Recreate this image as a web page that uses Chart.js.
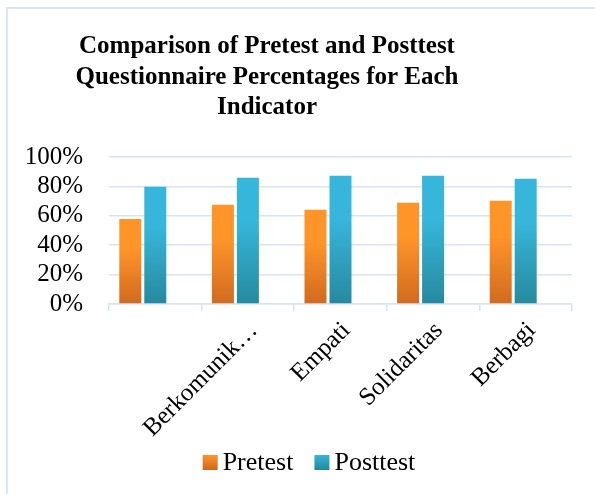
<!DOCTYPE html>
<html>
<head>
<meta charset="utf-8">
<script src="https://cdn.jsdelivr.net/npm/chart.js@4"></script>
<style>
  html, body { margin: 0; padding: 0; background: #fff; overflow: hidden; }
  #wrap { position: relative; width: 595px; height: 494px; }
  #frame { position: absolute; left: 6px; top: 7px; width: 700px; height: 600px; border: 2px solid #dce6f2; }
  canvas { position: absolute; left: 0; top: 0; }
</style>
</head>
<body>
<div id="wrap">
  <div id="frame"></div>
  <canvas id="grafico" width="595" height="494"></canvas>
</div>
<script>
const categorias = ["", "Berkomunik…", "Empati", "Solidaritas", "Berbagi"];
const pretest = [0.579, 0.675, 0.641, 0.689, 0.702];
const posttest = [0.798, 0.859, 0.873, 0.873, 0.852];
const titulo = ["Comparison of Pretest and Posttest", "Questionnaire Percentages for Each", "Indicator"];
const legendas = ["Pretest", "Posttest"];

const coresPre = ["#ff9429", "#d06a1f"];
const coresPos = ["#36b6da", "#26899e"];
const corGrade = "#d9e4f2";
const fonte = "'Liberation Serif', 'Times New Roman', serif";

function gradienteBarra(ctx, cores) {
  const chart = ctx.chart;
  if (!chart.chartArea || ctx.type !== "data") return cores[0];
  const y = chart.scales.y;
  const g = chart.ctx.createLinearGradient(0, y.getPixelForValue(ctx.raw), 0, y.getPixelForValue(0));
  g.addColorStop(0, cores[0]);
  g.addColorStop(0.35, cores[0]);
  g.addColorStop(1, cores[1]);
  return g;
}

// título e legenda desenhados à mão (posições do Excel)
const textoExtra = {
  id: "textoExtra",
  afterDraw(chart) {
    const c = chart.ctx;
    c.save();
    c.fillStyle = "#000";
    c.font = "bold 25px " + fonte;
    c.textAlign = "center";
    c.textBaseline = "middle";
    titulo.forEach((linha, i) => c.fillText(linha, 267, 47 + i * 30.5));

    c.font = "26px " + fonte;
    c.textAlign = "left";
    const larguras = legendas.map(t => c.measureText(t).width);
    const total = 15 + 5 + larguras[0] + 21 + 15 + 5 + larguras[1];
    let x = 309 - total / 2;
    const yMeio = 462;
    [coresPre, coresPos].forEach((cores, i) => {
      const g = c.createLinearGradient(0, yMeio - 7, 0, yMeio + 7);
      g.addColorStop(0, cores[0]);
      g.addColorStop(1, cores[1]);
      c.fillStyle = g;
      c.fillRect(x, yMeio - 7, 15, 15);
      x += 20;
      c.fillStyle = "#000";
      c.fillText(legendas[i], x, yMeio + 1);
      x += larguras[i] + 21;
    });
    c.restore();
  }
};

function desenhar() {
  new Chart(document.getElementById("grafico"), {
    type: "bar",
    data: {
      labels: categorias,
      datasets: [
        { label: legendas[0], data: pretest, backgroundColor: ctx => gradienteBarra(ctx, coresPre) },
        { label: legendas[1], data: posttest, backgroundColor: ctx => gradienteBarra(ctx, coresPos) },
        // vazio, só para empurrar as barras para a esquerda como no original
        { label: "", data: [] }
      ],
    },
    options: {
      responsive: false,
      animation: false,
      layout: { padding: { top: 157, right: 23, left: 0, bottom: 0 } },
      categoryPercentage: 0.81,
      barPercentage: 0.88,
      plugins: { legend: { display: false }, title: { display: false }, tooltip: { enabled: false } },
      scales: {
        x: {
          afterFit: s => { s.height = 190; },
          grid: { offset: true, drawOnChartArea: false, drawTicks: true, tickLength: 7, color: corGrade, lineWidth: 1.5 },
          border: { display: true, color: corGrade, width: 1.5 },
          ticks: { color: "#000", font: { family: fonte, size: 25 }, minRotation: 45, maxRotation: 45, autoSkip: false, padding: 5, labelOffset: 6 },
        },
        y: {
          min: 0,
          max: 1,
          afterFit: s => { s.width = 109; },
          grid: { color: corGrade, lineWidth: 1.5, drawTicks: false },
          border: { display: false },
          ticks: { stepSize: 0.2, autoSkip: false, padding: 26, color: "#000", font: { family: fonte, size: 25 }, callback: v => Math.round(v * 100) + "%" },
        },
      },
    },
    plugins: [textoExtra],
  });
}

Promise.all([
  document.fonts.load("25px 'Liberation Serif'"),
  document.fonts.load("bold 25px 'Liberation Serif'"),
]).then(desenhar, desenhar);
</script>
</body>
</html>
